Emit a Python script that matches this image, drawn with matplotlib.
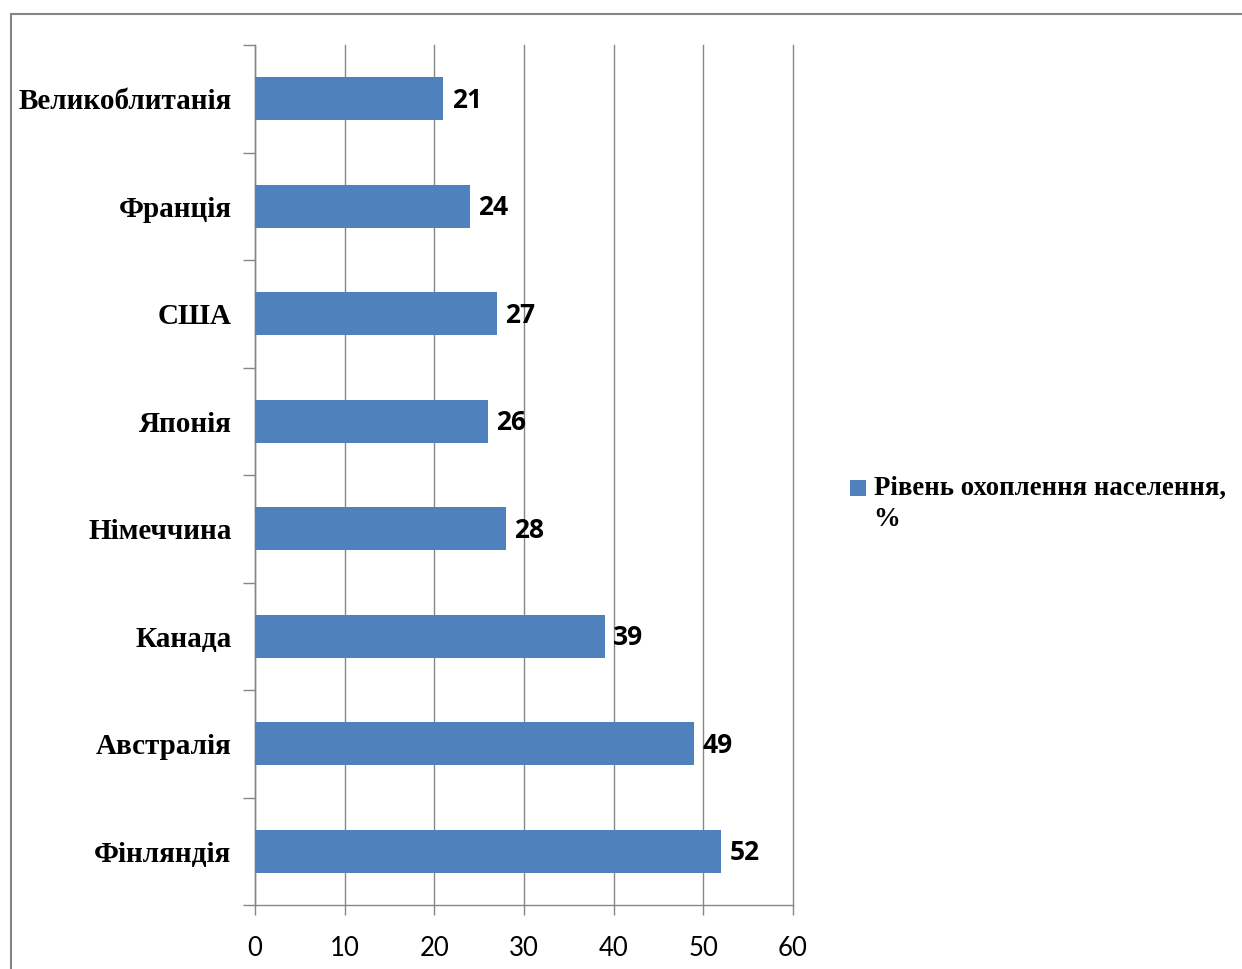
import matplotlib
matplotlib.use("Agg")
import matplotlib.pyplot as plt
from matplotlib.lines import Line2D
from matplotlib.patches import Rectangle
import numpy as np

countries = ["Фінляндія", "Австралія", "Канада", "Німеччина", "Японія", "США", "Франція", "Великоблитанія"]
values = [52, 49, 39, 28, 26, 27, 24, 21]
xticks = [0, 10, 20, 30, 40, 50, 60]
legend_lines = ["Рівень охоплення населення,", "%"]

W, H = 1242, 969
fig = plt.figure(figsize=(W / 100, H / 100), dpi=100)
fig.patch.set_facecolor("white")

gray = "#868686"
bar_color = "#4F81BD"

# outer frame (top & left visible)
fig.add_artist(Line2D([11 / W, 1.0], [1 - 14 / H, 1 - 14 / H], color=gray, lw=1.5, transform=fig.transFigure))
fig.add_artist(Line2D([11 / W, 11 / W], [1 - 14 / H, 0], color=gray, lw=1.5, transform=fig.transFigure))

left, right, top, bottom = 255, 793, 45, 905
ax = fig.add_axes([left / W, 1 - bottom / H, (right - left) / W, (bottom - top) / H])

y = np.arange(len(countries))
ax.barh(y, values, height=0.4, color=bar_color, zorder=3)
ax.set_xlim(0, 60)
ax.set_ylim(-0.5, len(countries) - 0.5)

for sp in ["top", "right"]:
    ax.spines[sp].set_visible(False)
for sp in ["left", "bottom"]:
    ax.spines[sp].set_color(gray)
    ax.spines[sp].set_linewidth(1)

ax.set_xticks(xticks)
ax.set_xticklabels([str(t) for t in xticks], fontfamily="Lato", fontsize=18.5)
ax.tick_params(axis="x", direction="out", length=7, color=gray, pad=15, width=1)
ax.xaxis.grid(True, color=gray, lw=1, zorder=0)
for gl in ax.get_xgridlines():
    gl.set_clip_on(False)

ax.set_yticks(y)
ax.set_yticklabels(countries, fontfamily="Liberation Serif", fontweight="bold", fontsize=21)
ax.tick_params(axis="y", which="major", length=0, pad=17)
ax.set_yticks(np.arange(-0.5, len(countries), 1), minor=True)
ax.tick_params(axis="y", which="minor", direction="out", length=9, color=gray, width=1)

for yi, v in zip(y, values):
    ax.annotate(str(v), (v, yi), xytext=(6, -1), textcoords="offset points",
                va="center", ha="left", fontfamily="Open Sans", fontweight="bold",
                fontsize=19, color="black", zorder=4)

# legend
fig.add_artist(Rectangle((850 / W, 1 - 496 / H), 16 / W, 16 / H, transform=fig.transFigure,
                         facecolor=bar_color, edgecolor="none"))
fig.text(874 / W, 1 - 476 / H, legend_lines[0], ha="left", va="top",
         fontfamily="Liberation Serif", fontweight="bold", fontsize=19.3)
fig.text(873 / W, 1 - 507 / H, legend_lines[1], ha="left", va="top",
         fontfamily="Liberation Serif", fontweight="bold", fontsize=19.3)

fig.savefig("out.png", dpi=100, facecolor="white")
